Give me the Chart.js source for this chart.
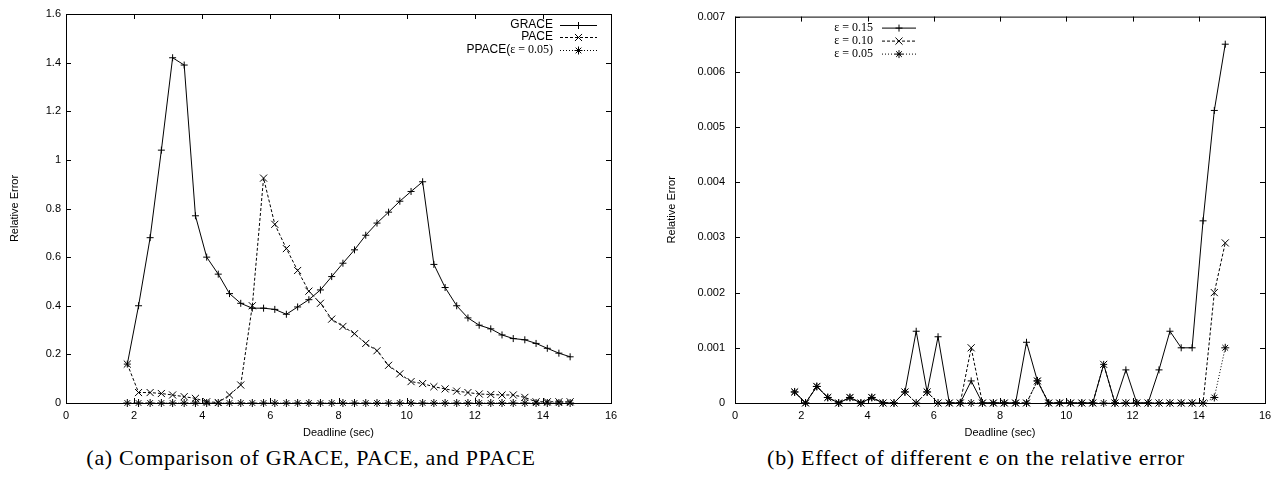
<!DOCTYPE html>
<html>
<head>
<meta charset="utf-8">
<script src="https://cdn.jsdelivr.net/npm/chart.js@4.4.1/dist/chart.umd.min.js"></script>
<style>
    html, body { margin: 0; padding: 0; background: #fff; }
    body { width: 1283px; height: 477px; position: relative; overflow: hidden; }
    canvas { position: absolute; top: 0; }
    #chart-a { left: 0; }
    #chart-b { left: 640px; }
    .caption {
        position: absolute;
        top: 445px;
        font-family: 'Liberation Serif', 'Times New Roman', serif;
        font-size: 22px;
        letter-spacing: 0.7px;
        white-space: nowrap;
        transform: translateX(-50%);
        color: #000;
    }
    .lunate { font-family: 'DejaVu Serif', serif; font-size: 19px; }
</style>
</head>
<body>
<canvas id="chart-a" width="640" height="440"></canvas>
<canvas id="chart-b" width="643" height="440"></canvas>
<div class="caption" style="left:311px">(a) Comparison of GRACE, PACE, and PPACE</div>
<div class="caption" style="left:976px">(b) Effect of different <span class="lunate">ϵ</span> on the relative error</div>

<script>
// Deadlines (sec) shared by every series
const deadline = [1.8, 2.13, 2.47, 2.8, 3.13, 3.47, 3.8, 4.13, 4.47, 4.8,
    5.13, 5.47, 5.8, 6.13, 6.47, 6.8, 7.13, 7.47, 7.8, 8.13,
    8.47, 8.8, 9.13, 9.47, 9.8, 10.13, 10.47, 10.8, 11.13, 11.47,
    11.8, 12.13, 12.47, 12.8, 13.13, 13.47, 13.8, 14.13, 14.47, 14.8];

// (a) relative error per algorithm
const grace = [0.16, 0.40, 0.68, 1.04, 1.42, 1.39, 0.77, 0.60, 0.53, 0.45,
    0.41, 0.39, 0.39, 0.385, 0.365, 0.395, 0.425, 0.465, 0.52, 0.575,
    0.63, 0.69, 0.74, 0.785, 0.83, 0.87, 0.91, 0.57, 0.475, 0.40,
    0.35, 0.32, 0.305, 0.28, 0.265, 0.26, 0.245, 0.225, 0.205, 0.19];
const pace = [0.16, 0.043, 0.043, 0.039, 0.033, 0.026, 0.019, 0.005, 0.002, 0.033,
    0.074, 0.40, 0.925, 0.735, 0.635, 0.545, 0.46, 0.41, 0.345, 0.315,
    0.285, 0.245, 0.215, 0.155, 0.12, 0.088, 0.08, 0.067, 0.058, 0.049,
    0.043, 0.037, 0.035, 0.033, 0.033, 0.023, 0.005, 0.005, 0.005, 0.005];
const ppace = [0, 0, 0, 0, 0, 0, 0, 0, 0, 0,
    0, 0, 0, 0, 0, 0, 0, 0, 0, 0,
    0, 0, 0, 0, 0, 0, 0, 0, 0, 0,
    0, 0, 0, 0, 0, 0, 0, 0, 0, 0];

// (b) relative error per epsilon
const eps15 = [0.0002, 0, 0.0003, 0.0001, 0, 0.0001, 0, 0.0001, 0, 0,
    0.0002, 0.0013, 0.0002, 0.0012, 0, 0, 0.0004, 0, 0, 0,
    0, 0.0011, 0.0004, 0, 0, 0, 0, 0, 0.0007, 0,
    0.0006, 0, 0, 0.0006, 0.0013, 0.001, 0.001, 0.0033, 0.0053, 0.0065];
const eps10 = [0.0002, 0, 0.0003, 0.0001, 0, 0.0001, 0, 0.0001, 0, 0,
    0.0002, 0, 0.0002, 0, 0, 0, 0.001, 0, 0, 0,
    0, 0, 0.0004, 0, 0, 0, 0, 0, 0.0007, 0,
    0, 0, 0, 0, 0, 0, 0, 0, 0.002, 0.0029];
const eps05 = [0.0002, 0, 0.0003, 0.0001, 0, 0.0001, 0, 0.0001, 0, 0,
    0.0002, 0, 0.0002, 0, 0, 0, 0, 0, 0, 0,
    0, 0, 0.0004, 0, 0, 0, 0, 0, 0, 0,
    0, 0, 0, 0, 0, 0, 0, 0, 0.0001, 0.001];

// Tick values and labels
const xTicks = [0, 2, 4, 6, 8, 10, 12, 14, 16];
const xTickLabels = ['0', '2', '4', '6', '8', '10', '12', '14', '16'];
const yTicksA = [0, 0.2, 0.4, 0.6, 0.8, 1, 1.2, 1.4, 1.6];
const yTickLabelsA = ['0', '0.2', '0.4', '0.6', '0.8', '1', '1.2', '1.4', '1.6'];
const yTicksB = [0, 0.001, 0.002, 0.003, 0.004, 0.005, 0.006, 0.007];
const yTickLabelsB = ['0', '0.001', '0.002', '0.003', '0.004', '0.005', '0.006', '0.007'];

const SANS = "'Liberation Sans', Arial, Helvetica, sans-serif";
const SERIF = "'Liberation Serif', 'Times New Roman', serif";

// gnuplot-like point glyphs: + , x and *
function drawMarker(ctx, style, r, x, y) {
    ctx.beginPath();
    if (style === 'cross' || style === 'star') {
        ctx.moveTo(x - r, y); ctx.lineTo(x + r, y);
        ctx.moveTo(x, y - r); ctx.lineTo(x, y + r);
    }
    if (style === 'crossRot' || style === 'star') {
        const d = r * Math.SQRT1_2;
        ctx.moveTo(x - d, y - d); ctx.lineTo(x + d, y + d);
        ctx.moveTo(x - d, y + d); ctx.lineTo(x + d, y - d);
    }
    ctx.stroke();
}

// Border box with inward ticks on all four sides
const gnuFrame = {
    id: 'gnuFrame',
    beforeDatasetsDraw(chart) {
        const { ctx, chartArea: a, scales } = chart;
        const len = 5;
        ctx.save();
        ctx.strokeStyle = '#000';
        ctx.lineWidth = 1;
        ctx.setLineDash([]);
        ctx.strokeRect(a.left + 0.5, a.top + 0.5, a.right - a.left, a.bottom - a.top);
        ctx.beginPath();
        for (const t of scales.x.ticks) {
            const px = Math.round(scales.x.getPixelForValue(t.value)) + 0.5;
            ctx.moveTo(px, a.bottom); ctx.lineTo(px, a.bottom - len);
            ctx.moveTo(px, a.top); ctx.lineTo(px, a.top + len);
        }
        for (const t of scales.y.ticks) {
            const py = Math.round(scales.y.getPixelForValue(t.value)) + 0.5;
            ctx.moveTo(a.left, py); ctx.lineTo(a.left + len, py);
            ctx.moveTo(a.right, py); ctx.lineTo(a.right - len, py);
        }
        ctx.stroke();
        ctx.restore();
    }
};

// Key: right-aligned label, then a sample line with its marker
const gnuKey = {
    id: 'gnuKey',
    afterDatasetsDraw(chart, args, opts) {
        const { ctx, chartArea: a } = chart;
        const base = opts.from === 'right' ? a.right : a.left;
        ctx.save();
        ctx.fillStyle = '#000';
        ctx.strokeStyle = '#000';
        ctx.lineWidth = 1;
        ctx.textBaseline = 'middle';
        ctx.textAlign = 'left';
        chart.data.datasets.forEach((ds, i) => {
            const y = a.top + opts.rows[i];
            const label = ds.label;
            const k = label.indexOf('ε');
            const parts = (k < 0 ? [[label, SANS]] : [[label.slice(0, k), SANS], [label.slice(k), SERIF]])
                .filter(p => p[0].length);
            let total = 0;
            for (const p of parts) {
                ctx.font = '12px ' + p[1];
                total += ctx.measureText(p[0]).width;
            }
            let x = base + opts.textRight - total;
            for (const p of parts) {
                ctx.font = '12px ' + p[1];
                ctx.fillText(p[0], x, y);
                x += ctx.measureText(p[0]).width;
            }
            const x1 = base + opts.line[0], x2 = base + opts.line[1];
            ctx.setLineDash(ds.borderDash || []);
            ctx.beginPath();
            ctx.moveTo(x1, y + 0.5); ctx.lineTo(x2, y + 0.5);
            ctx.stroke();
            ctx.setLineDash([]);
            drawMarker(ctx, ds.pointStyle, ds.pointRadius, (x1 + x2) / 2, y + 0.5);
        });
        ctx.restore();
    }
};

function series(label, values, style, radius, dash) {
    return {
        label,
        data: values.map((y, i) => ({ x: deadline[i], y })),
        borderColor: '#000',
        backgroundColor: '#000',
        borderWidth: 1,
        borderDash: dash,
        pointStyle: style,
        pointRadius: radius,
        pointHoverRadius: radius,
        pointBorderWidth: 1,
        pointBorderColor: '#000',
        tension: 0,
        fill: false,
        clip: false,
    };
}

function makeOptions(cfg) {
    const tickFont = { family: SANS, size: 11 };
    return {
        responsive: false,
        animation: false,
        events: [],
        layout: { padding: { top: 14, right: cfg.padRight, left: 0, bottom: 0 } },
        plugins: {
            legend: { display: false },
            tooltip: { enabled: false },
            gnuKey: cfg.key,
        },
        scales: {
            x: {
                type: 'linear',
                min: 0,
                max: 16,
                afterBuildTicks: s => { s.ticks = xTicks.map(v => ({ value: v })); },
                afterFit: s => { s.height = 37; },
                grid: { display: false, drawTicks: false },
                border: { display: false },
                ticks: {
                    color: '#000', font: tickFont, padding: 6,
                    maxRotation: 0, autoSkip: false,
                    callback: (v, i) => xTickLabels[i],
                },
                title: {
                    display: true, text: 'Deadline (sec)', color: '#000',
                    font: tickFont, padding: { top: 0, bottom: 0 },
                },
            },
            y: {
                type: 'linear',
                min: 0,
                max: cfg.yMax,
                afterBuildTicks: s => { s.ticks = cfg.yTicks.map(v => ({ value: v })); },
                afterFit: s => { s.width = cfg.yWidth; },
                grid: { display: false, drawTicks: false },
                border: { display: false },
                ticks: {
                    color: '#000', font: tickFont, padding: cfg.yPad,
                    autoSkip: false,
                    callback: (v, i) => cfg.yLabels[i],
                },
                title: {
                    display: true, text: 'Relative Error', color: '#000',
                    font: tickFont, padding: { top: cfg.yTitlePad, bottom: 0 },
                },
            },
        },
    };
}

new Chart(document.getElementById('chart-a'), {
    type: 'line',
    data: {
        datasets: [
            series('GRACE', grace, 'cross', 3.5, []),
            series('PACE', pace, 'crossRot', 5, [3, 2]),
            series('PPACE(ε = 0.05)', ppace, 'star', 4, [1, 2]),
        ],
    },
    options: makeOptions({
        padRight: 29, yWidth: 66, yPad: 5, yTitlePad: 8,
        yMax: 1.6, yTicks: yTicksA, yLabels: yTickLabelsA,
        key: { from: 'right', textRight: -58, line: [-51, -14], rows: [11, 23, 36] },
    }),
    plugins: [gnuFrame, gnuKey],
});

new Chart(document.getElementById('chart-b'), {
    type: 'line',
    data: {
        datasets: [
            series('ε = 0.15', eps15, 'cross', 3.5, []),
            series('ε = 0.10', eps10, 'crossRot', 5, [3, 2]),
            series('ε = 0.05', eps05, 'star', 4, [1, 2]),
        ],
    },
    options: makeOptions({
        padRight: 18, yWidth: 95, yPad: 10, yTitlePad: 25,
        yMax: 0.007, yTicks: yTicksB, yLabels: yTickLabelsB,
        key: { from: 'left', textRight: 138, line: [147, 181], rows: [11, 24, 37] },
    }),
    plugins: [gnuFrame, gnuKey],
});
</script>
</body>
</html>
